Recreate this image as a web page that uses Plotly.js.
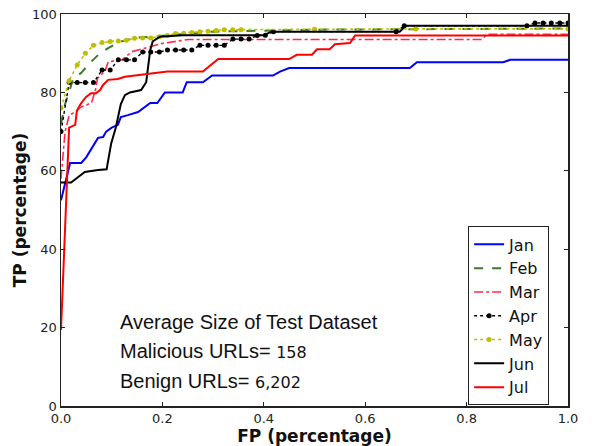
<!DOCTYPE html>
<html>
<head>
<meta charset="utf-8">
<script src="https://cdn.plot.ly/plotly-3.0.1.min.js"></script>
<style>
  html, body { margin: 0; padding: 0; background: #ffffff; }
  #chart { width: 592px; height: 446px; }
</style>
</head>
<body>
<div id="chart"></div>
<script>
// ROC curves per month: FP rate (%) vs TP rate (%)
const months = ["Jan", "Feb", "Mar", "Apr", "May", "Jun", "Jul"];

const janFP = [0, 0.018, 0.04, 0.05, 0.073, 0.083, 0.089, 0.1, 0.112, 0.118, 0.132, 0.152, 0.176, 0.19, 0.205, 0.24, 0.248, 0.28, 0.298, 0.418, 0.432, 0.45, 0.688, 0.702, 0.872, 0.886, 1.0];
const janTP = [52.5, 62, 62, 63.5, 68.4, 68.6, 70, 71, 71.7, 73.7, 74.2, 75, 77.3, 77.3, 80, 80, 82.6, 82.6, 84.3, 84.3, 85.3, 86.2, 86.2, 87.7, 87.7, 88.3, 88.3];

const febFP = [0, 0.008, 0.024, 0.04, 0.057, 0.077, 0.093, 0.116, 0.146, 0.2, 0.3, 0.5, 1.0];
const febTP = [72, 77, 83.4, 85, 87.5, 90, 91.3, 92.9, 93.9, 94.5, 95.5, 96, 96.3];

const marFP = [0, 0.008, 0.016, 0.04, 0.06, 0.068, 0.072, 0.087, 0.093, 0.12, 0.14, 0.17, 0.2, 0.25, 0.83, 0.84, 1.0];
const marTP = [58, 70, 74, 76.3, 77.3, 80.6, 83.6, 85.5, 87.8, 88.3, 90.4, 91.5, 92.5, 93.5, 93.5, 94.8, 94.8];

const aprFP = [0, 0.016, 0.032, 0.048, 0.064, 0.081, 0.097, 0.113, 0.129, 0.145, 0.161, 0.177, 0.194, 0.210, 0.226, 0.242, 0.258, 0.274, 0.290, 0.306, 0.322, 0.339, 0.355, 0.371, 0.387, 0.403, 0.419, 0.661, 0.677, 0.919, 0.935, 0.951, 0.967, 0.984, 1.0];
const aprTP = [70, 82.5, 82.5, 82.5, 82.5, 85.7, 85.7, 88.3, 88.3, 88.3, 90.3, 90.3, 90.3, 90.8, 90.8, 90.8, 90.8, 92, 92, 92, 92, 93.6, 93.6, 93.6, 94.5, 94.6, 95.5, 95.5, 97, 97, 97.7, 97.7, 97.7, 97.7, 97.7];

const mayFP = [0, 0.016, 0.032, 0.048, 0.064, 0.081, 0.097, 0.113, 0.129, 0.145, 0.161, 0.177, 0.194, 0.210, 0.226, 0.242, 0.258, 0.274, 0.290, 0.306, 0.322, 0.339, 0.355, 0.5, 0.7, 1.0];
const mayTP = [76, 83, 87, 90, 92, 92.7, 93, 93.1, 93.3, 93.8, 93.9, 93.9, 94.2, 94.5, 95, 95.1, 95.3, 95.5, 95.6, 95.8, 96, 96, 96, 96.1, 96.2, 96.2];

const junFP = [0, 0.02, 0.034, 0.047, 0.073, 0.09, 0.099, 0.108, 0.118, 0.126, 0.136, 0.158, 0.168, 0.176, 0.181, 0.195, 0.24, 0.4, 0.415, 0.668, 0.68, 1.0];
const junTP = [57, 57, 58.4, 59.7, 60.2, 60.4, 67, 71, 77, 79.3, 80, 80.6, 82.6, 90.8, 93, 94.2, 94.6, 94.6, 95.5, 95.5, 97, 97];

const julFP = [0, 0.016, 0.028, 0.031, 0.034, 0.04, 0.049, 0.059, 0.069, 0.077, 0.083, 0.093, 0.112, 0.126, 0.146, 0.166, 0.19, 0.21, 0.28, 0.31, 0.45, 0.465, 0.495, 0.505, 0.53, 0.54, 0.57, 0.58, 1.0];
const julTP = [19.4, 71, 71.7, 75, 76, 77.3, 78.8, 79.8, 79.8, 80.6, 81.9, 83.2, 83.4, 84, 84.3, 84.7, 85, 85.3, 85.3, 88.5, 88.5, 89.6, 89.6, 91, 91, 92.3, 92.6, 94.5, 94.5];

const xTicks = [0, 0.2, 0.4, 0.6, 0.8, 1.0];
const yTicks = [0, 20, 40, 60, 80, 100];

const notes = [
  "Average Size of Test Dataset",
  "Malicious URLs= <span style=\"font-family:'DejaVu Sans';font-size:16px\">158</span>",
  "Benign URLs= <span style=\"font-family:'DejaVu Sans';font-size:16px\">6,202</span>"
];

const traces = [
  {x: janFP, y: janTP, name: months[0], mode: "lines",
   line: {color: "#0000ff", width: 2}},
  {x: febFP, y: febTP, name: months[1], mode: "lines",
   line: {color: "#3d7a2a", width: 2, dash: "dash"}},
  {x: marFP, y: marTP, name: months[2], mode: "lines",
   line: {color: "#ff2a4a", width: 1.6, dash: "dashdot"}},
  {x: aprFP, y: aprTP, name: months[3], mode: "lines+markers",
   line: {color: "#000000", width: 1.4, dash: "dot"},
   marker: {color: "#000000", size: 5}},
  {x: mayFP, y: mayTP, name: months[4], mode: "lines+markers",
   line: {color: "#bfbf00", width: 1.6, dash: "dot"},
   marker: {color: "#bfbf00", size: 5}},
  {x: junFP, y: junTP, name: months[5], mode: "lines",
   line: {color: "#000000", width: 2}},
  {x: julFP, y: julTP, name: months[6], mode: "lines",
   line: {color: "#ff0000", width: 2}}
].map(t => Object.assign({type: "scatter", hoverinfo: "skip"}, t));

const axisCommon = {
  showline: true, linecolor: "#222", linewidth: 1.5, mirror: "ticks",
  ticks: "inside", ticklen: 4, tickwidth: 1, tickcolor: "#222",
  showgrid: false, zeroline: false,
  tickfont: {family: "DejaVu Sans", size: 13, color: "#222"}
};

const layout = {
  width: 592, height: 446,
  margin: {l: 61, r: 24, t: 14, b: 40},
  paper_bgcolor: "#ffffff", plot_bgcolor: "#ffffff",
  showlegend: true,
  xaxis: Object.assign({}, axisCommon, {
    range: [0, 1], tickvals: xTicks, ticktext: xTicks.map(v => v.toFixed(1)),
    title: {text: "FP (percentage)", standoff: 0,
            font: {family: "DejaVu Sans", size: 17, color: "#111", weight: "bold"}}
  }),
  yaxis: Object.assign({}, axisCommon, {
    range: [0, 100], tickvals: yTicks, ticktext: yTicks.map(String),
    title: {text: "TP (percentage)", standoff: 1,
            font: {family: "DejaVu Sans", size: 17, color: "#111", weight: "bold"}}
  }),
  legend: {
    x: 0.803, y: 0.458, xanchor: "left", yanchor: "top",
    bgcolor: "#ffffff", bordercolor: "#222", borderwidth: 1,
    font: {family: "DejaVu Sans", size: 16, color: "#111"},
    tracegroupgap: 0, itemwidth: 30, entrywidth: 82
  },
  annotations: notes.map((txt, i) => ({
    xref: "paper", yref: "paper", x: 0.112, y: 0.215 - i * 0.075,
    xanchor: "left", yanchor: "middle", showarrow: false, text: txt,
    font: {family: "Liberation Sans", size: 20, color: "#111"}
  }))
};

Plotly.newPlot("chart", traces, layout, {staticPlot: true, displayModeBar: false});
</script>
</body>
</html>
